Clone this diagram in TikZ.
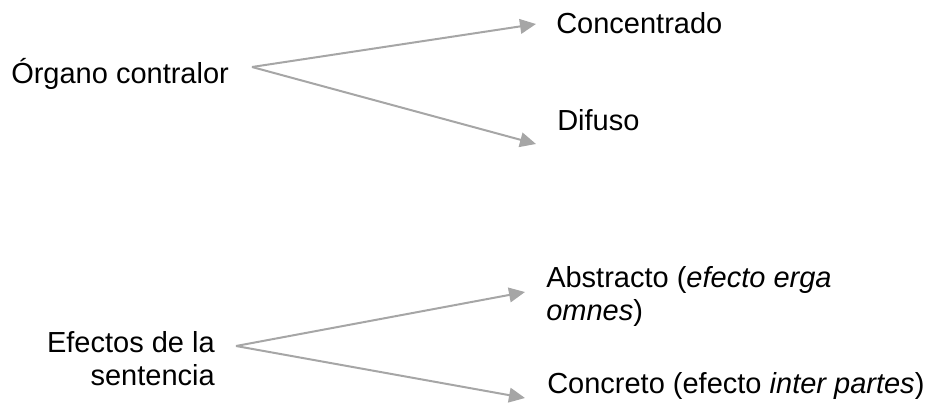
\documentclass[tikz,border=0pt]{standalone}
\usepackage{fontspec}
\setmainfont{Liberation Sans}
\usetikzlibrary{arrows.meta}

\definecolor{flechagris}{RGB}{166,166,166}

\tikzset{
    texto/.style={inner sep=0pt, anchor=base west, font=\fontsize{21.75}{24.75}\selectfont},
    flecha/.style={draw=flechagris, line width=1.5pt, -{Triangle[length=12pt, width=11pt]}}
}

\begin{document}
\begin{tikzpicture}[x=0.75pt, y=-0.75pt]
    \useasboundingbox (0,0) rectangle (933,407);

    \node[texto] (organo) at (11,83) {Órgano contralor};
    \node[texto] (concentrado) at (556,33) {Concentrado};
    \node[texto] (difuso) at (557,130) {Difuso};

    % base de un nodo de dos lineas = ultima linea
    \node[texto, anchor=base east, align=right] (efectos) at (215,385) {Efectos de la\\sentencia};
    \node[texto, align=left] (abstracto) at (546,320) {Abstracto (\textit{efecto erga}\\\textit{omnes})};
    \node[texto] (concreto) at (547,393) {Concreto (efecto \textit{inter partes})};

    \coordinate (bifurca1) at (252,67);
    \coordinate (punta1) at (536,24);
    \coordinate (punta2) at (536,144);
    \coordinate (bifurca2) at (236,346);
    \coordinate (punta3) at (525,292);
    \coordinate (punta4) at (525,398);

    \draw[flecha] (bifurca1) -- (punta1);
    \draw[flecha] (bifurca1) -- (punta2);
    \draw[flecha] (bifurca2) -- (punta3);
    \draw[flecha] (bifurca2) -- (punta4);
\end{tikzpicture}
\end{document}
